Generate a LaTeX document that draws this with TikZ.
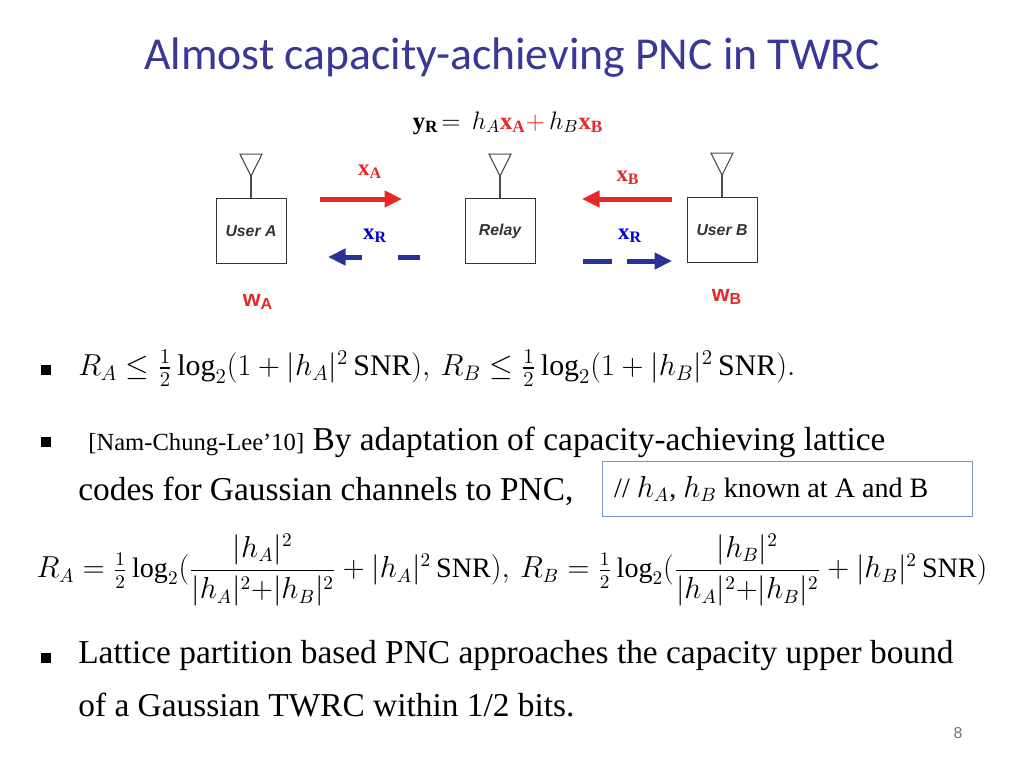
\documentclass[tikz,border=0pt]{standalone}
\usepackage{amsmath}
\usepackage{fontspec}
\setmainfont{Liberation Serif}
\setsansfont{Liberation Sans}
\newfontfamily\titlefont{Carlito}
\usetikzlibrary{positioning,arrows.meta}
\definecolor{titleblue}{RGB}{58,56,150}
\definecolor{relred}{RGB}{232,40,40}
\definecolor{relblue}{RGB}{40,50,150}
\definecolor{notebox}{RGB}{120,150,200}
\tikzset{
  unitbox/.style={draw=black!80,minimum width=1.4cm,minimum height=1.3cm,font=\sffamily\bfseries\itshape\small,text=black!80},
  antenna/.style={draw=black!70,line width=0.6pt},
  fatarrow/.style={line width=0.1cm,-{Triangle[length=0.35cm,width=0.32cm]}},
  fatdash/.style={line width=0.1cm,relblue},
  bodytext/.style={anchor=west,font=\fontsize{19}{22}\selectfont,inner sep=0pt},
  bulletmark/.style={fill=black,minimum size=0.2cm,inner sep=0pt}
}
\begin{document}
\begin{tikzpicture}[x=0.02cm,y=-0.02cm]
  \useasboundingbox (0,0) rectangle (1024,768);

  \node[font=\titlefont\fontsize{26}{30}\selectfont,text=titleblue] (title) at (512,58) {Almost capacity-achieving PNC in TWRC};
  \node[font=\fontsize{14}{16}\selectfont] (yr) at (508,123) {$\mathbf{y}_{\mathbf{R}}\!=\,h_A\textcolor{relred}{\mathbf{x}_{\mathbf{A}}\mathbf{+}}\,h_B\textcolor{relred}{\mathbf{x}_{\mathbf{B}}}$};

  % users and relay
  \node[unitbox] (userA) at (251,231) {User A};
  \node[unitbox] (relay) at (500,231) {Relay};
  \node[unitbox] (userB) at (722,230) {User B};
  \foreach \u in {userA,relay,userB}{
    \draw[antenna] (\u.north) -- ++(0,-22) coordinate (\u top);
    \draw[antenna] (\u top) -- ++(-11,-22) -- ++(22,0) -- cycle;
  }

  % links
  \coordinate (aR1) at (320,199); \coordinate (aR2) at (402,199);
  \coordinate (bR1) at (672,199); \coordinate (bR2) at (582,199);
  \draw[fatarrow,relred] (aR1) -- (aR2);
  \draw[fatarrow,relred] (bR1) -- (bR2);
  \coordinate (aL1) at (420,257); \coordinate (aL2) at (398,257);
  \coordinate (aL3) at (362,257); \coordinate (aL4) at (328,257);
  \draw[fatdash] (aL1) -- (aL2);
  \draw[fatarrow,relblue] (aL3) -- (aL4);
  \coordinate (bL1) at (583,261); \coordinate (bL2) at (612,261);
  \coordinate (bL3) at (627,261); \coordinate (bL4) at (672,261);
  \draw[fatdash] (bL1) -- (bL2);
  \draw[fatarrow,relblue] (bL3) -- (bL4);

  \node[text=relred,font=\fontsize{13}{15}\selectfont] (xA) at (370,172) {$\mathbf{x}_{\mathbf{A}}$};
  \node[text=relred,font=\fontsize{13}{15}\selectfont] (xB) at (628,178) {$\mathbf{x}_{\mathbf{B}}$};
  \node[text=blue!80!black,font=\fontsize{13}{15}\selectfont] (xR1) at (375,236) {$\mathbf{x}_{\mathbf{R}}$};
  \node[text=blue!80!black,font=\fontsize{13}{15}\selectfont] (xR2) at (630,236) {$\mathbf{x}_{\mathbf{R}}$};
  \node[text=relred,font=\sffamily\bfseries\fontsize{13}{15}\selectfont] (wA) at (258,302) {w\textsubscript{A}};
  \node[text=relred,font=\sffamily\bfseries\fontsize{13}{15}\selectfont] (wB) at (727,297) {w\textsubscript{B}};

  % bullets
  \node[bulletmark] (b1) at (46,370) {};
  \node[bodytext,font=\fontsize{17}{20}\selectfont] (line1) at (78,368) {$R_A\le\frac{1}{2}\log_2(1+|h_A|^2\,\mathrm{SNR}),\,R_B\le\frac{1}{2}\log_2(1+|h_B|^2\,\mathrm{SNR}).$};
  \node[bulletmark] (b2) at (46,442) {};
  \node[bodytext] (line2) at (88,442) {{\fontsize{14}{16}\selectfont[Nam-Chung-Lee’10]} By adaptation of capacity-achieving lattice};
  \node[bodytext] (line3) at (78,491) {codes for Gaussian channels to PNC,};
  \node[draw=notebox,minimum width=7.4cm,minimum height=1.1cm,anchor=north west] (note) at (602,461) {};
  \node[anchor=west,font=\fontsize{16}{18}\selectfont] (notetext) at (608,489) {// $h_A$, $h_B$ known at A and B};
  \node[font=\fontsize{16}{19}\selectfont] (line4) at (512,570) {$R_A=\tfrac{1}{2}\log_2(\dfrac{|h_A|^2}{|h_A|^2{+}|h_B|^2}+|h_A|^2\,\mathrm{SNR}),\,R_B=\tfrac{1}{2}\log_2(\dfrac{|h_B|^2}{|h_A|^2{+}|h_B|^2}+|h_B|^2\,\mathrm{SNR})$};
  \node[bulletmark] (b3) at (46,658) {};
  \node[bodytext] (line5) at (78,656) {Lattice partition based PNC approaches the capacity upper bound};
  \node[bodytext] (line6) at (78,705) {of a Gaussian TWRC within 1/2 bits.};
  \node[text=black!55,font=\sffamily\fontsize{9}{11}\selectfont] (page) at (958,733) {8};
\end{tikzpicture}
\end{document}
